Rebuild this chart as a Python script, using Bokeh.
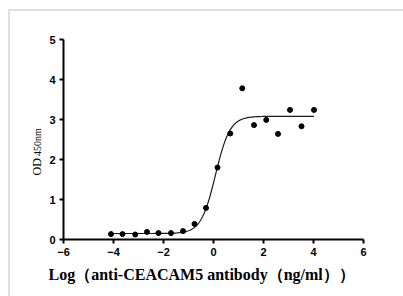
import numpy as np
from bokeh.plotting import figure
from bokeh.models import Range1d, FixedTicker, Title
from bokeh.layouts import row
from bokeh.core.properties import value
from bokeh.embed import file_html
from bokeh.resources import INLINE

log_conc = [-4.10, -3.64, -3.13, -2.66, -2.20, -1.70, -1.22, -0.76, -0.30,
            0.16, 0.67, 1.15, 1.62, 2.11, 2.58, 3.06, 3.52, 4.02]
od450 = [0.135, 0.135, 0.125, 0.19, 0.16, 0.16, 0.21, 0.39, 0.79,
         1.80, 2.65, 3.78, 2.86, 2.99, 2.64, 3.24, 2.83, 3.24]

fit_bottom = 0.15
fit_top = 3.08
fit_logec50 = 0.08
fit_hill = 1.5

x_ticks = [-6, -4, -2, 0, 2, 4, 6]
y_ticks = [0, 1, 2, 3, 4, 5]
x_label = "Log（anti-CEACAM5 antibody（ng/ml））"
y_label_main = "OD"
y_label_sub = "450nm"

yr = Range1d(0, 5)

# left strip holding the rotated y-axis title
side = figure(width=36, height=285, output_backend="svg", toolbar_location=None,
              x_range=Range1d(0, 36), y_range=yr,
              min_border_left=0, min_border_right=0, min_border_top=28, min_border_bottom=57)
side.frame_width = 36
side.frame_height = 200
side.axis.visible = False
side.grid.visible = False
side.outline_line_color = None
side.text(x=[26], y=[1.60], text=[y_label_main], angle=np.pi / 2,
          text_font=value("Liberation Serif"), text_font_size="12px",
          text_baseline="alphabetic", text_align="left", text_color="black")
side.text(x=[26.5], y=[2.09], text=[y_label_sub], angle=np.pi / 2,
          text_font=value("Liberation Serif"), text_font_size="10px",
          text_baseline="alphabetic", text_align="left", text_color="black")

p = figure(width=357, height=285, output_backend="svg", toolbar_location=None,
           x_range=Range1d(-6, 6), y_range=yr,
           min_border_left=17, min_border_right=40, min_border_top=28, min_border_bottom=57)
p.frame_width = 300
p.frame_height = 200
p.outline_line_color = None
p.grid.visible = False

xs = np.linspace(min(log_conc), max(log_conc), 300)
ys = fit_bottom + (fit_top - fit_bottom) / (1 + 10 ** ((fit_logec50 - xs) * fit_hill))
p.line(xs, ys, line_color="#1a1a1a", line_width=1.2)
p.scatter(log_conc, od450, size=5, color="black")

p.axis.axis_line_width = 2
p.axis.axis_line_color = "black"
p.axis.major_tick_line_width = 2
p.axis.major_tick_line_color = "black"
p.axis.major_tick_out = 4
p.axis.major_tick_in = 0
p.axis.minor_tick_line_color = None
p.axis.major_label_text_font = "Liberation Sans"
p.axis.major_label_text_font_style = "bold"
p.axis.major_label_text_font_size = "11px"
p.axis.major_label_text_color = "black"
p.axis.major_label_standoff = 4

p.xaxis.ticker = FixedTicker(ticks=x_ticks)
p.yaxis.ticker = FixedTicker(ticks=y_ticks)

p.add_layout(Title(text=x_label, align="left", offset=-15, standoff=11,
                   text_font="Liberation Serif", text_font_style="bold",
                   text_font_size="16px", text_color="black"), "below")

layout = row(side, p, spacing=0)
layout.styles = {"border-top": "2px solid #e0e0e0", "border-left": "2px solid #e0e0e0",
                 "margin-top": "9px", "margin-left": "8px"}

open("out.html", "w").write(file_html(layout, INLINE))
